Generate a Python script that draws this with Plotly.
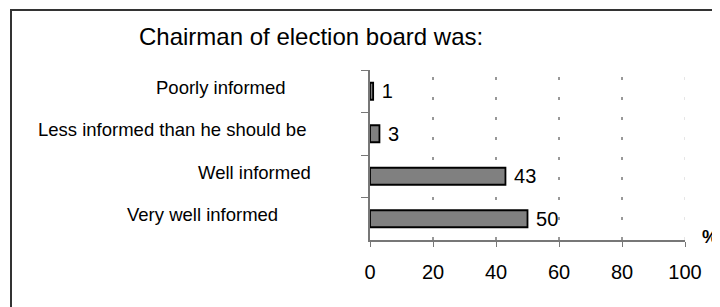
import plotly.graph_objects as go

categories = ["Poorly informed", "Less informed than he should be", "Well informed", "Very well informed"]
values = [1, 3, 43, 50]
x_ticks = [0, 20, 40, 60, 80, 100]
grid_dark = [20, 40, 60, 80]
grid_light = [100]
title_text = "Chairman of election board was:"
unit_text = "%"

# label centres in page pixels for the irregularly placed category labels
label_centers_px = [221, 172, 254, 202]

OFF = 8  # page body margin offset
W, H = 720, 307
L, T = 370 - OFF, 70 - OFF
R = W - (685 - OFF)
B = H - (240 - OFF)
PW = W - L - R
PH = H - T - B


def px_x(p):
    return (p - OFF - L) / PW


def px_y(p):
    return (T + PH - (p - OFF)) / PH


FONT = "Liberation Sans, Arial, sans-serif"

fig = go.Figure()
fig.add_trace(go.Bar(
    y=categories, x=values, orientation="h",
    marker=dict(color="#808080", line=dict(color="#000000", width=1.8)),
    text=["\u00a0" + str(v) for v in values], textposition="outside", constraintext="none",
    textfont=dict(size=20, color="#000000", family=FONT),
    cliponaxis=False, width=0.4,
))

shapes = []
for g in grid_dark:
    shapes.append(dict(type="line", xref="x", yref="paper", x0=g, x1=g, y0=0, y1=1,
                       line=dict(color="#333333", width=1, dash="3px,17px"), layer="below"))
for g in grid_light:
    shapes.append(dict(type="line", xref="x", yref="paper", x0=g, x1=g, y0=0, y1=1,
                       line=dict(color="#cccccc", width=1, dash="3px,17px"), layer="below"))
# outer frame
shapes.append(dict(type="rect", xref="paper", yref="paper",
                   x0=px_x(11), x1=px_x(760), y0=px_y(340), y1=px_y(10),
                   line=dict(color="#333333", width=2)))

annotations = []
for cat, cx in zip(categories, label_centers_px):
    annotations.append(dict(xref="paper", yref="y", x=px_x(cx), y=cat,
                            text=cat, showarrow=False, xanchor="center", yanchor="middle",
                            yshift=4, font=dict(size=18.5, color="#000000", family=FONT)))
annotations.append(dict(xref="paper", yref="paper", x=px_x(700), y=px_y(237),
                        text="<b>" + unit_text + "</b>", showarrow=False, xanchor="left",
                        yanchor="middle", font=dict(size=18, color="#000000", family=FONT)))
annotations.append(dict(xref="paper", yref="paper", x=px_x(311), y=px_y(36),
                        text=title_text, showarrow=False, xanchor="center", yanchor="middle",
                        font=dict(size=24, color="#000000", family=FONT)))

fig.update_layout(
    width=W, height=H,
    margin=dict(l=L, r=R, t=T, b=B, pad=0),
    paper_bgcolor="white", plot_bgcolor="white",
    showlegend=False,
    bargap=0.6,
    shapes=shapes,
    annotations=annotations,
    xaxis=dict(range=[0, 100], tickvals=x_ticks, showgrid=False, zeroline=False,
               showline=True, linecolor="#777777", linewidth=1.5,
               ticks="outside", ticklen=5, tickcolor="#777777",
               tickfont=dict(size=20, color="#000000", family=FONT),
               ticklabelstandoff=8, fixedrange=True),
    yaxis=dict(autorange="reversed", showticklabels=False, showgrid=False, zeroline=False,
               showline=True, linecolor="#777777", linewidth=1.5,
               ticks="outside", ticklen=7, tickcolor="#777777", tickson="boundaries",
               fixedrange=True),
)

fig.write_html("out.html", config={"displayModeBar": False})
